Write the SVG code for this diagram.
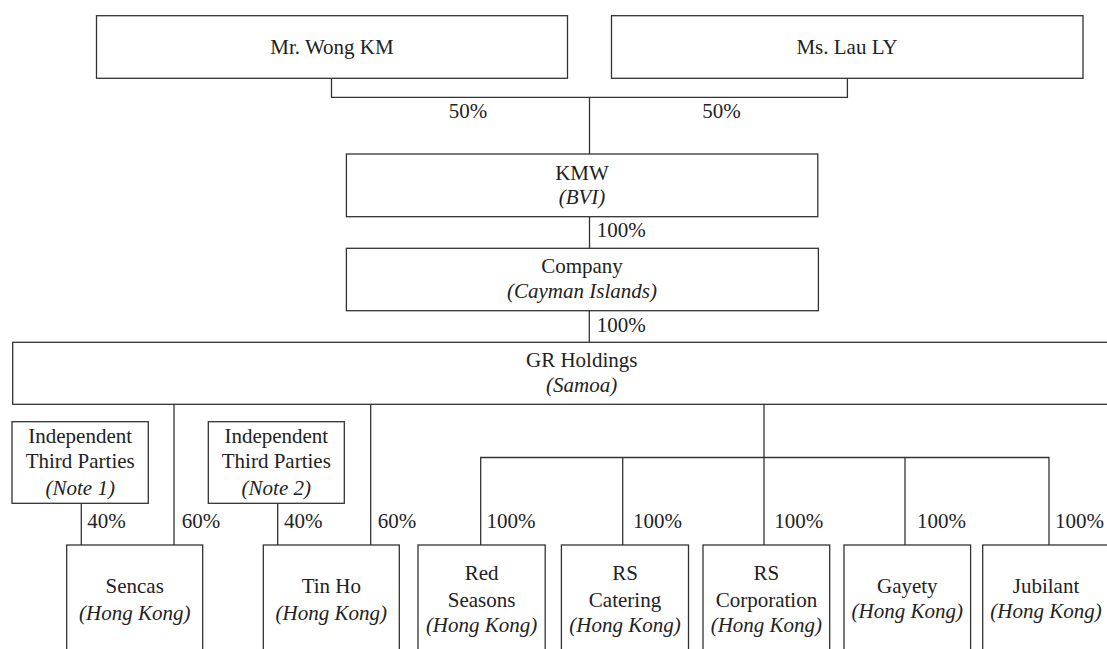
<svg xmlns="http://www.w3.org/2000/svg" width="1107" height="649" viewBox="0 0 1107 649" font-family="'Liberation Serif', 'Times New Roman', 'DejaVu Serif', serif">
<style>
.box{fill:#fff;stroke:#333;stroke-width:1.3}
.ln{fill:none;stroke:#333;stroke-width:1.3}
text{font-family:'Liberation Serif','Times New Roman','DejaVu Serif',serif;font-size:21px;fill:#222}
.c{text-anchor:middle}
.i{font-style:italic}
</style>
<rect width="1107" height="649" fill="#fff"/>
<g id="connectors">
<path class="ln" d="M331.5 78.3V97.3H847.4V78.3"/>
<path class="ln" d="M589.5 97.3V154"/>
<path class="ln" d="M589.5 216.7V248.3"/>
<path class="ln" d="M589.3 310.7V342.3"/>
<path class="ln" d="M174 404.3V545"/>
<path class="ln" d="M370.7 404.3V545"/>
<path class="ln" d="M81.3 503.3V545"/>
<path class="ln" d="M277.7 503.3V545"/>
<path class="ln" d="M764 404.3V457.5"/>
<path class="ln" d="M480.7 545V457.5H1049V545"/>
<path class="ln" d="M622.7 457.5V545"/>
<path class="ln" d="M764 457.5V545"/>
<path class="ln" d="M905 457.5V545"/>
<g id="labels">
<text class="c" x="468" y="118">50%</text>
<text class="c" x="721.5" y="118">50%</text>
<text x="596.7" y="237">100%</text>
<text x="596.7" y="331.7">100%</text>
<text x="87.3" y="528.3">40%</text>
<text x="181.7" y="528.3">60%</text>
<text x="284" y="528.3">40%</text>
<text x="377.7" y="528.3">60%</text>
<text x="486.6" y="528.3">100%</text>
<text x="633" y="528.3">100%</text>
<text x="774.2" y="528.3">100%</text>
<text x="917" y="528.3">100%</text>
<text x="1055" y="528.3">100%</text>
</g>
</g>
<g id="wong"><rect class="box" x="96.5" y="15.7" width="471" height="62.6"/><text class="c" x="332" y="54.3">Mr. Wong KM</text></g>
<g id="lau"><rect class="box" x="611.5" y="15.7" width="471.5" height="62.6"/><text class="c" x="847" y="54.3">Ms. Lau LY</text></g>
<g id="kmw"><rect class="box" x="346.4" y="154" width="471.4" height="62.7"/><text class="c" x="582" y="180">KMW</text><text class="c i" x="582" y="204">(BVI)</text></g>
<g id="company"><rect class="box" x="346.4" y="248.3" width="472" height="62.4"/><text class="c" x="582" y="273">Company</text><text class="c i" x="582" y="298">(Cayman Islands)</text></g>
<g id="gr"><rect class="box" x="12.7" y="342.3" width="1138" height="62"/><text class="c" x="581.7" y="366.7">GR Holdings</text><text class="c i" x="581.7" y="391.7">(Samoa)</text></g>
<g id="itp1"><rect class="box" x="12" y="421.7" width="136.3" height="81.6"/><text class="c" x="80.2" y="443.3">Independent</text><text class="c" x="80.2" y="468.3">Third Parties</text><text class="c i" x="80.2" y="495">(Note 1)</text></g>
<g id="itp2"><rect class="box" x="208.3" y="421.7" width="136" height="81.6"/><text class="c" x="276.3" y="443.3">Independent</text><text class="c" x="276.3" y="468.3">Third Parties</text><text class="c i" x="276.3" y="495">(Note 2)</text></g>
<g id="sencas"><rect class="box" x="66.7" y="545" width="136" height="120"/><text class="c" x="134.7" y="593.3">Sencas</text><text class="c i" x="134.7" y="620">(Hong Kong)</text></g>
<g id="tinho"><rect class="box" x="263.3" y="545" width="136" height="120"/><text class="c" x="331.3" y="593.3">Tin Ho</text><text class="c i" x="331.3" y="620">(Hong Kong)</text></g>
<g id="red"><rect class="box" x="418" y="545" width="127.2" height="120"/><text class="c" x="481.6" y="580">Red</text><text class="c" x="481.6" y="606.7">Seasons</text><text class="c i" x="481.6" y="631.7">(Hong Kong)</text></g>
<g id="catering"><rect class="box" x="561.4" y="545" width="127.1" height="120"/><text class="c" x="625" y="580">RS</text><text class="c" x="625" y="606.7">Catering</text><text class="c i" x="625" y="631.7">(Hong Kong)</text></g>
<g id="corp"><rect class="box" x="703" y="545" width="126.7" height="120"/><text class="c" x="766.4" y="580">RS</text><text class="c" x="766.4" y="606.7">Corporation</text><text class="c i" x="766.4" y="631.7">(Hong Kong)</text></g>
<g id="gayety"><rect class="box" x="844" y="545" width="126.6" height="120"/><text class="c" x="907.3" y="593.3">Gayety</text><text class="c i" x="907.3" y="618.3">(Hong Kong)</text></g>
<g id="jubilant"><rect class="box" x="982.7" y="545" width="127" height="120"/><text class="c" x="1046" y="593.3">Jubilant</text><text class="c i" x="1046" y="618.3">(Hong Kong)</text></g>
</svg>
